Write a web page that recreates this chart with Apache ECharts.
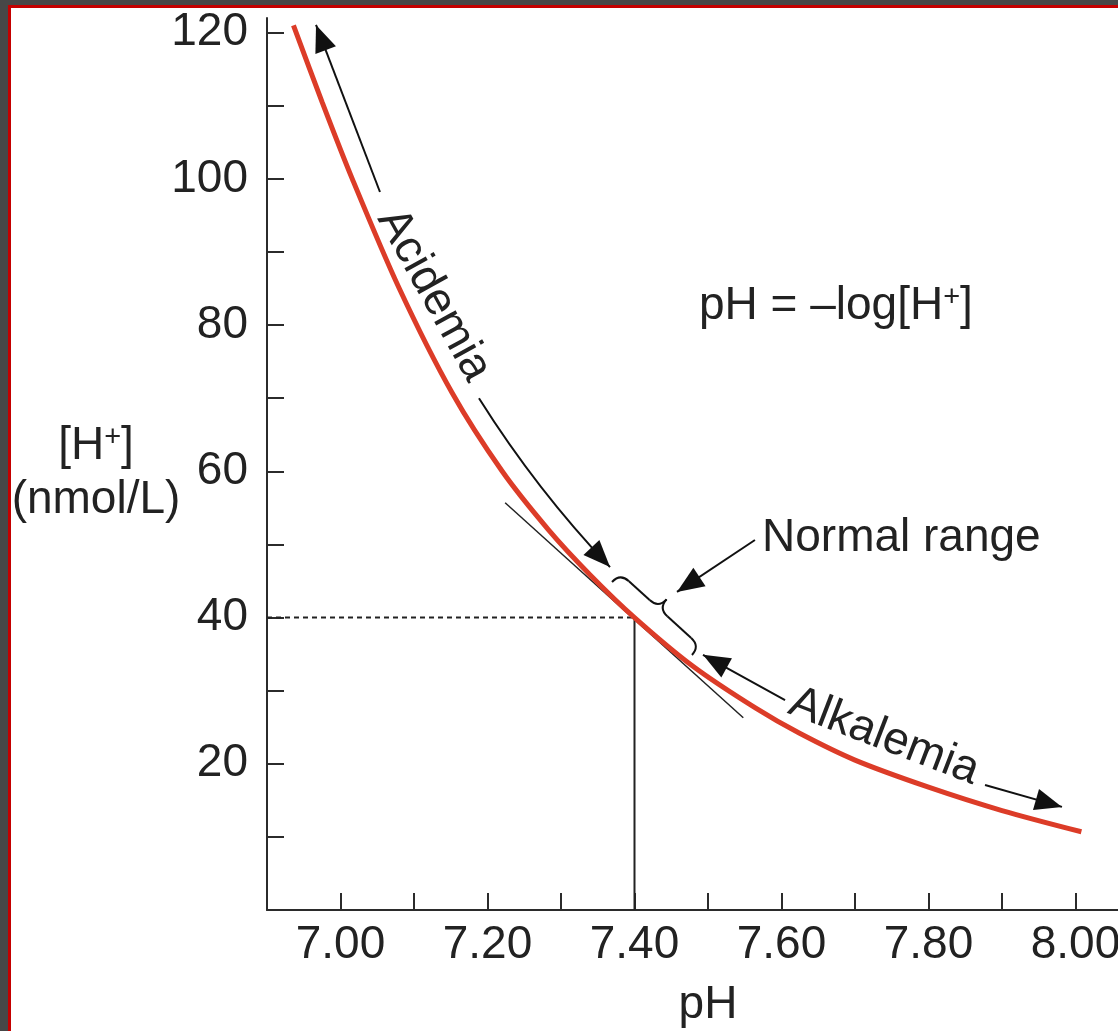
<!DOCTYPE html>
<html><head><meta charset="utf-8">
<script src="https://cdn.jsdelivr.net/npm/echarts@6/dist/echarts.min.js"></script>
<style>
html,body{margin:0;padding:0;background:#474747;width:1118px;height:1031px;overflow:hidden}
#frame{position:absolute;left:8px;top:5px;width:1110px;height:1026px;background:#fff;border-left:3px solid #c40000;border-top:3px solid #c40000;box-sizing:border-box}
#chart{position:absolute;left:0;top:0;width:1118px;height:1031px}
</style></head><body><div id="frame"></div><div id="chart"></div>
<script>
// ---- data ----
const phValues = [6.936, 6.975, 7.016, 7.08, 7.152, 7.22, 7.283, 7.34, 7.40, 7.48, 7.565, 7.624, 7.70, 7.80, 7.90, 8.008];
const hValues  = [121,   110.5, 100,   85,   70.7,  60,   52,    45.8, 40,   33.3, 27.6,  24.2,  20.5, 16.8, 13.6, 10.7];
const xTickValues  = [7.0, 7.1, 7.2, 7.3, 7.4, 7.5, 7.6, 7.7, 7.8, 7.9, 8.0];
const xLabelValues = [7.0, 7.2, 7.4, 7.6, 7.8, 8.0];
const yTickValues  = [10, 20, 30, 40, 50, 60, 70, 80, 90, 100, 110, 120];
const yLabelValues = [20, 40, 60, 80, 100, 120];
const normalPH = 7.40;
const normalH = 40;
const tangentPH = [7.224, 7.548];
const tangentH  = [55.7, 26.3];

const FONT = "'Liberation Sans', Arial, Helvetica, sans-serif";
const FS = 46;
const INK = '#222';
const chart = echarts.init(document.getElementById('chart'), null, {renderer: 'canvas'});

const option = {
  backgroundColor: 'transparent',
  animation: false,
  grid: {left: 267, right: -31, top: 18, bottom: 121, containLabel: false, outerBoundsMode: 'none'},
  xAxis: {
    type: 'value', min: 6.9, max: 8.1,
    axisLine: {lineStyle: {color: '#2b2b2b', width: 2}},
    axisTick: {inside: true, length: 17, customValues: xTickValues, lineStyle: {color: '#2b2b2b', width: 2}},
    axisLabel: {customValues: xLabelValues, formatter: v => v.toFixed(2), fontSize: FS, color: INK, fontFamily: FONT, margin: 12},
    splitLine: {show: false}
  },
  yAxis: {
    type: 'value', min: 0, max: 122,
    axisLine: {show: true, lineStyle: {color: '#2b2b2b', width: 2}},
    axisTick: {show: true, inside: true, length: 17, customValues: yTickValues, lineStyle: {color: '#2b2b2b', width: 2}},
    axisLabel: {customValues: yLabelValues, fontSize: FS, color: INK, fontFamily: FONT, margin: 19},
    splitLine: {show: false}
  },
  series: [
    {type: 'line', data: phValues.map((p, i) => [p, hValues[i]]), smooth: 0.3, symbol: 'none',
     lineStyle: {color: '#dc3c28', width: 5}, z: 4},
    {type: 'line', data: tangentPH.map((p, i) => [p, tangentH[i]]), symbol: 'none',
     lineStyle: {color: INK, width: 1.5}, z: 3},
    {type: 'line', data: [[6.9, normalH], [normalPH, normalH]], symbol: 'none',
     lineStyle: {color: INK, width: 2, type: [5, 4]}, z: 2},
    {type: 'line', data: [[normalPH, 0], [normalPH, normalH]], symbol: 'none',
     lineStyle: {color: INK, width: 2}, z: 2}
  ]
};
chart.setOption(option);

// ---- annotations, anchored in data coordinates ----
const ann = {
  acidUpTip: [6.9667, 121.05], acidUpTail: [7.0537, 98.2],
  acidText: [7.1272, 84.1],
  acidLowTail: [7.1884, 70.0], acidLowCtrl: [7.2673, 57.4], acidLowTip: [7.3667, 46.9],
  alkLeftTip: [7.4932, 34.9], alkLeftTail: [7.6048, 28.7],
  alkText: [7.7395, 23.7],
  alkRightTail: [7.8769, 17.1], alkRightTip: [7.9816, 14.1],
  normTail: [7.5639, 50.6], normTip: [7.4578, 43.5],
  normText: [7.5735, 50.9],
  braceStart: [7.3694, 44.86], braceEnd: [7.4782, 34.88],
  eqText: [7.674, 82.5],
  xName: [7.5, -13.0]
};
const P = a => chart.convertToPixel({gridIndex: 0}, a);
function head(tip, from, len, hw) {
  len = len || 27; hw = hw || 11;
  const dx = tip[0] - from[0], dy = tip[1] - from[1], d = Math.hypot(dx, dy);
  const ux = dx / d, uy = dy / d, bx = tip[0] - ux * len, by = tip[1] - uy * len;
  return {type: 'polygon', shape: {points: [tip, [bx - uy * hw, by + ux * hw], [bx + uy * hw, by - ux * hw]]},
          style: {fill: '#111'}, z: 10};
}
function seg(a, b, w) {
  return {type: 'line', shape: {x1: a[0], y1: a[1], x2: b[0], y2: b[1]}, style: {stroke: '#111', lineWidth: w || 2}, z: 10};
}
function label(pt, text, rot, align, rich) {
  return {type: 'text', x: pt[0], y: pt[1], rotation: (rot || 0) * Math.PI / 180, z: 10,
          style: {text: text, fontSize: FS, fontFamily: FONT, fill: INK, align: align || 'center', verticalAlign: 'middle', rich: rich}};
}
const supRich = {
  a: {fontSize: FS, fontFamily: FONT, fill: INK},
  s: {fontSize: 29, fontFamily: FONT, fill: INK, verticalAlign: 'top'}
};

const g = [];
// Acidemia
let t = P(ann.acidUpTip), f = P(ann.acidUpTail);
g.push(seg(f, t), head(t, f));
g.push(label(P(ann.acidText), 'Acidemia', -61));
let a0 = P(ann.acidLowTail), c0 = P(ann.acidLowCtrl), a1 = P(ann.acidLowTip);
g.push({type: 'bezierCurve', shape: {x1: a0[0], y1: a0[1], cpx1: c0[0], cpy1: c0[1], x2: a1[0], y2: a1[1]},
        style: {stroke: '#111', lineWidth: 2, fill: null}, z: 10});
g.push(head(a1, c0));
// Alkalemia
t = P(ann.alkLeftTip); f = P(ann.alkLeftTail);
g.push(seg(f, t), head(t, f));
g.push(label(P(ann.alkText), 'Alkalemia', -21));
f = P(ann.alkRightTail); t = P(ann.alkRightTip);
g.push(seg(f, t), head(t, f));
// Normal range
f = P(ann.normTail); t = P(ann.normTip);
g.push(seg(f, t), head(t, f));
g.push(label(P(ann.normText), 'Normal range', 0, 'left'));
// Brace
(function () {
  const s = P(ann.braceStart), e = P(ann.braceEnd);
  const L = Math.hypot(e[0] - s[0], e[1] - s[1]);
  const ux = (e[0] - s[0]) / L, uy = (e[1] - s[1]) / L, nx = uy, ny = -ux, h = 12;
  const Lp = (a, b) => [s[0] + ux * a + nx * b, s[1] + uy * a + ny * b];
  const q = (p0, cp, p1) => ({type: 'bezierCurve', shape: {x1: p0[0], y1: p0[1], cpx1: cp[0], cpy1: cp[1], x2: p1[0], y2: p1[1]},
                              style: {stroke: '#111', lineWidth: 2, fill: null}, z: 10});
  const m = L * 0.48;
  g.push(q(Lp(0, 0), Lp(0, h), Lp(h, h)));
  g.push(seg(Lp(h, h), Lp(m - h, h)));
  g.push(q(Lp(m - h, h), Lp(m, h), Lp(m, 2 * h)));
  g.push(q(Lp(m, 2 * h), Lp(m, h), Lp(m + h, h)));
  g.push(seg(Lp(m + h, h), Lp(L - h, h)));
  g.push(q(Lp(L - h, h), Lp(L, h), Lp(L, 0)));
})();
// Equation
g.push(label(P(ann.eqText), '{a|pH = –log[H}{s|+}{a|]}', 0, 'center', supRich));
// X axis title
g.push(label(P(ann.xName), 'pH', 0, 'center'));
// Y axis title
g.push({type: 'text', x: 96, y: 446, z: 10,
        style: {text: '{a|[H}{s|+}{a|]}', align: 'center', verticalAlign: 'middle', rich: supRich}});
g.push({type: 'text', x: 96, y: 500, z: 10,
        style: {text: '(nmol/L)', fontSize: FS, fontFamily: FONT, fill: INK, align: 'center', verticalAlign: 'middle'}});

chart.setOption({graphic: g});
</script>
</body></html>
